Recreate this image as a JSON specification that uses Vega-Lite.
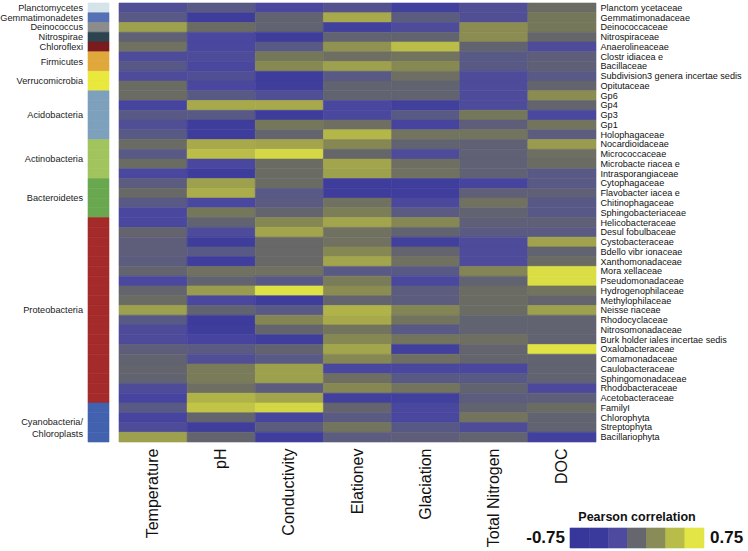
{
  "$schema": "https://vega.github.io/schema/vega-lite/v6.json",
  "padding": {"left": 0, "top": 2, "right": 0, "bottom": 0},
  "background": "white",
  "config": {
    "view": {"stroke": null},
    "font": "Liberation Sans",
    "concat": {"spacing": 8}
  },
  "datasets": {
    "families": [
      {"family": "Planctom ycetaceae", "phylum": "Planctomycetes", "Temperature": -0.35, "pH": -0.2, "Conductivity": -0.45, "Elationev": -0.3, "Glaciation": -0.55, "Total Nitrogen": -0.35, "DOC": 0.05},
      {"family": "Gemmatimonadaceae", "phylum": "Gemmatimonadetes", "Temperature": -0.2, "pH": -0.6, "Conductivity": -0.05, "Elationev": 0.45, "Glaciation": -0.15, "Total Nitrogen": -0.35, "DOC": 0.15},
      {"family": "Deinococcaceae", "phylum": "Deinococcus", "Temperature": 0.4, "pH": 0.05, "Conductivity": -0.05, "Elationev": -0.55, "Glaciation": -0.4, "Total Nitrogen": 0.3, "DOC": 0.15},
      {"family": "Nitrospiraceae", "phylum": "Nitrospirae", "Temperature": -0.08, "pH": -0.45, "Conductivity": -0.6, "Elationev": -0.05, "Glaciation": -0.05, "Total Nitrogen": 0.3, "DOC": 0.0},
      {"family": "Anaerolineaceae", "phylum": "Chloroflexi", "Temperature": 0.1, "pH": -0.45, "Conductivity": -0.2, "Elationev": 0.33, "Glaciation": 0.55, "Total Nitrogen": -0.05, "DOC": -0.4},
      {"family": "Clostr idiacea e", "phylum": "Firmicutes", "Temperature": -0.4, "pH": -0.38, "Conductivity": 0.15, "Elationev": 0.08, "Glaciation": 0.12, "Total Nitrogen": -0.2, "DOC": -0.12},
      {"family": "Bacillaceae", "phylum": "Firmicutes", "Temperature": -0.22, "pH": -0.45, "Conductivity": 0.28, "Elationev": 0.4, "Glaciation": 0.28, "Total Nitrogen": -0.2, "DOC": -0.1},
      {"family": "Subdivision3 genera incertae sedis", "phylum": "Verrucomicrobia", "Temperature": -0.4, "pH": -0.35, "Conductivity": -0.6, "Elationev": -0.2, "Glaciation": 0.08, "Total Nitrogen": -0.4, "DOC": -0.2},
      {"family": "Opitutaceae", "phylum": "Verrucomicrobia", "Temperature": 0.05, "pH": -0.45, "Conductivity": -0.58, "Elationev": -0.05, "Glaciation": -0.05, "Total Nitrogen": -0.4, "DOC": -0.03},
      {"family": "Gp6", "phylum": "Acidobacteria", "Temperature": 0.05, "pH": -0.2, "Conductivity": -0.35, "Elationev": -0.05, "Glaciation": -0.05, "Total Nitrogen": -0.4, "DOC": 0.3},
      {"family": "Gp4", "phylum": "Acidobacteria", "Temperature": -0.5, "pH": 0.45, "Conductivity": 0.45, "Elationev": -0.45, "Glaciation": -0.55, "Total Nitrogen": -0.4, "DOC": -0.03},
      {"family": "Gp3", "phylum": "Acidobacteria", "Temperature": -0.2, "pH": -0.2, "Conductivity": -0.6, "Elationev": -0.45, "Glaciation": -0.2, "Total Nitrogen": 0.15, "DOC": -0.45},
      {"family": "Gp1", "phylum": "Acidobacteria", "Temperature": -0.35, "pH": -0.6, "Conductivity": 0.15, "Elationev": 0.08, "Glaciation": -0.5, "Total Nitrogen": -0.12, "DOC": 0.12},
      {"family": "Holophagaceae", "phylum": "Acidobacteria", "Temperature": -0.2, "pH": -0.6, "Conductivity": -0.03, "Elationev": 0.52, "Glaciation": 0.12, "Total Nitrogen": 0.12, "DOC": -0.15},
      {"family": "Nocardioidaceae", "phylum": "Actinobacteria", "Temperature": 0.05, "pH": 0.45, "Conductivity": 0.43, "Elationev": 0.27, "Glaciation": -0.05, "Total Nitrogen": -0.08, "DOC": 0.38},
      {"family": "Micrococcaceae", "phylum": "Actinobacteria", "Temperature": -0.2, "pH": 0.55, "Conductivity": 0.68, "Elationev": 0.0, "Glaciation": -0.4, "Total Nitrogen": -0.08, "DOC": 0.08},
      {"family": "Microbacte riacea e", "phylum": "Actinobacteria", "Temperature": 0.05, "pH": -0.45, "Conductivity": 0.05, "Elationev": 0.43, "Glaciation": 0.08, "Total Nitrogen": -0.08, "DOC": 0.05},
      {"family": "Intrasporangiaceae", "phylum": "Actinobacteria", "Temperature": -0.45, "pH": -0.6, "Conductivity": 0.05, "Elationev": 0.4, "Glaciation": 0.1, "Total Nitrogen": -0.08, "DOC": -0.2},
      {"family": "Cytophagaceae", "phylum": "Bacteroidetes", "Temperature": -0.15, "pH": 0.4, "Conductivity": 0.05, "Elationev": -0.6, "Glaciation": -0.58, "Total Nitrogen": -0.5, "DOC": -0.2},
      {"family": "Flavobacter iacea e", "phylum": "Bacteroidetes", "Temperature": 0.03, "pH": 0.47, "Conductivity": -0.2, "Elationev": -0.6, "Glaciation": -0.58, "Total Nitrogen": -0.1, "DOC": -0.1},
      {"family": "Chitinophagaceae", "phylum": "Bacteroidetes", "Temperature": -0.2, "pH": -0.45, "Conductivity": -0.18, "Elationev": 0.1, "Glaciation": -0.42, "Total Nitrogen": 0.1, "DOC": -0.22},
      {"family": "Sphingobacteriaceae", "phylum": "Bacteroidetes", "Temperature": -0.45, "pH": 0.15, "Conductivity": -0.03, "Elationev": 0.2, "Glaciation": -0.18, "Total Nitrogen": -0.05, "DOC": -0.22},
      {"family": "Helicobacteraceae", "phylum": "Proteobacteria", "Temperature": -0.45, "pH": -0.05, "Conductivity": 0.27, "Elationev": 0.43, "Glaciation": 0.27, "Total Nitrogen": -0.1, "DOC": -0.1},
      {"family": "Desul fobulbaceae", "phylum": "Proteobacteria", "Temperature": -0.03, "pH": -0.4, "Conductivity": 0.43, "Elationev": 0.1, "Glaciation": -0.05, "Total Nitrogen": -0.18, "DOC": -0.18},
      {"family": "Cystobacteraceae", "phylum": "Proteobacteria", "Temperature": -0.12, "pH": -0.6, "Conductivity": 0.02, "Elationev": 0.1, "Glaciation": -0.55, "Total Nitrogen": -0.4, "DOC": 0.42},
      {"family": "Bdello vibr ionaceae", "phylum": "Proteobacteria", "Temperature": -0.12, "pH": -0.2, "Conductivity": 0.02, "Elationev": 0.27, "Glaciation": -0.03, "Total Nitrogen": -0.4, "DOC": -0.05},
      {"family": "Xanthomonadaceae", "phylum": "Proteobacteria", "Temperature": -0.15, "pH": -0.58, "Conductivity": 0.02, "Elationev": 0.43, "Glaciation": 0.1, "Total Nitrogen": -0.4, "DOC": 0.05},
      {"family": "Mora xellaceae", "phylum": "Proteobacteria", "Temperature": -0.03, "pH": 0.1, "Conductivity": 0.1, "Elationev": -0.2, "Glaciation": -0.2, "Total Nitrogen": 0.25, "DOC": 0.7},
      {"family": "Pseudomonadaceae", "phylum": "Proteobacteria", "Temperature": -0.45, "pH": -0.05, "Conductivity": -0.22, "Elationev": 0.18, "Glaciation": -0.45, "Total Nitrogen": -0.05, "DOC": 0.7},
      {"family": "Hydrogenophilaceae", "phylum": "Proteobacteria", "Temperature": -0.03, "pH": 0.38, "Conductivity": 0.72, "Elationev": 0.3, "Glaciation": -0.15, "Total Nitrogen": 0.05, "DOC": 0.12},
      {"family": "Methylophilaceae", "phylum": "Proteobacteria", "Temperature": 0.05, "pH": -0.45, "Conductivity": -0.6, "Elationev": -0.03, "Glaciation": -0.15, "Total Nitrogen": 0.05, "DOC": -0.03},
      {"family": "Neisse riaceae", "phylum": "Proteobacteria", "Temperature": 0.4, "pH": -0.05, "Conductivity": -0.2, "Elationev": 0.5, "Glaciation": 0.25, "Total Nitrogen": 0.05, "DOC": 0.4},
      {"family": "Rhodocyclaceae", "phylum": "Proteobacteria", "Temperature": -0.2, "pH": -0.62, "Conductivity": 0.25, "Elationev": 0.45, "Glaciation": 0.12, "Total Nitrogen": -0.05, "DOC": -0.05},
      {"family": "Nitrosomonadaceae", "phylum": "Proteobacteria", "Temperature": -0.4, "pH": -0.6, "Conductivity": -0.03, "Elationev": 0.12, "Glaciation": -0.2, "Total Nitrogen": -0.05, "DOC": -0.05},
      {"family": "Burk holder iales incertae sedis", "phylum": "Proteobacteria", "Temperature": -0.4, "pH": -0.5, "Conductivity": -0.58, "Elationev": 0.27, "Glaciation": 0.12, "Total Nitrogen": 0.08, "DOC": -0.05},
      {"family": "Oxalobacteraceae", "phylum": "Proteobacteria", "Temperature": -0.12, "pH": -0.18, "Conductivity": -0.05, "Elationev": 0.43, "Glaciation": -0.55, "Total Nitrogen": -0.03, "DOC": 0.73},
      {"family": "Comamonadaceae", "phylum": "Proteobacteria", "Temperature": -0.05, "pH": -0.35, "Conductivity": -0.2, "Elationev": 0.27, "Glaciation": 0.08, "Total Nitrogen": -0.03, "DOC": -0.05},
      {"family": "Caulobacteraceae", "phylum": "Proteobacteria", "Temperature": -0.03, "pH": 0.18, "Conductivity": 0.4, "Elationev": -0.45, "Glaciation": -0.45, "Total Nitrogen": -0.45, "DOC": -0.05},
      {"family": "Sphingomonadaceae", "phylum": "Proteobacteria", "Temperature": -0.05, "pH": 0.18, "Conductivity": 0.4, "Elationev": 0.08, "Glaciation": -0.2, "Total Nitrogen": -0.2, "DOC": -0.05},
      {"family": "Rhodobacteraceae", "phylum": "Proteobacteria", "Temperature": -0.38, "pH": 0.08, "Conductivity": -0.15, "Elationev": 0.27, "Glaciation": 0.12, "Total Nitrogen": -0.05, "DOC": -0.42},
      {"family": "Acetobacteraceae", "phylum": "Proteobacteria", "Temperature": -0.5, "pH": 0.5, "Conductivity": 0.43, "Elationev": -0.55, "Glaciation": -0.55, "Total Nitrogen": -0.15, "DOC": -0.12},
      {"family": "FamilyI", "phylum": "Cyanobacteria/\nChloroplasts", "Temperature": -0.2, "pH": 0.58, "Conductivity": 0.67, "Elationev": -0.03, "Glaciation": -0.45, "Total Nitrogen": -0.05, "DOC": 0.05},
      {"family": "Chlorophyta", "phylum": "Cyanobacteria/\nChloroplasts", "Temperature": -0.5, "pH": -0.03, "Conductivity": -0.48, "Elationev": -0.18, "Glaciation": -0.45, "Total Nitrogen": 0.12, "DOC": -0.05},
      {"family": "Streptophyta", "phylum": "Cyanobacteria/\nChloroplasts", "Temperature": -0.38, "pH": -0.58, "Conductivity": -0.15, "Elationev": 0.12, "Glaciation": -0.22, "Total Nitrogen": -0.38, "DOC": -0.05},
      {"family": "Bacillariophyta", "phylum": "Cyanobacteria/\nChloroplasts", "Temperature": 0.4, "pH": -0.03, "Conductivity": -0.58, "Elationev": -0.15, "Glaciation": -0.12, "Total Nitrogen": -0.05, "DOC": -0.55}
    ],
    "legendBlocks": [
      {"k": 1, "c": "#37379b"},
      {"k": 2, "c": "#3a3a9c"},
      {"k": 3, "c": "#4d4a9f"},
      {"k": 4, "c": "#66666e"},
      {"k": 5, "c": "#8a8c58"},
      {"k": 6, "c": "#b8bc48"},
      {"k": 7, "c": "#e2e545"}
    ]
  },
  "hconcat": [
    {
      "width": 21,
      "height": 439,
      "data": {"name": "families"},
      "layer": [
        {
          "mark": {"type": "rect", "strokeWidth": 0.6},
          "encoding": {
            "y": {"field": "family", "type": "nominal", "sort": null, "axis": null, "scale": {"paddingInner": 0, "paddingOuter": 0}},
            "color": {
              "field": "phylum", "type": "nominal", "legend": null,
              "scale": {
                "domain": ["Planctomycetes", "Gemmatimonadetes", "Deinococcus", "Nitrospirae", "Chloroflexi", "Firmicutes", "Verrucomicrobia", "Acidobacteria", "Actinobacteria", "Bacteroidetes", "Proteobacteria", "Cyanobacteria/\nChloroplasts"],
                "range": ["#d5e3ea", "#5570b5", "#8c8c8c", "#2e4350", "#7a1b1e", "#e0a83a", "#e9e83c", "#7da0bd", "#a2c45e", "#6aa84f", "#a52a2a", "#4262b0"]
              }
            },
            "stroke": {
              "field": "phylum", "type": "nominal", "legend": null,
              "scale": {
                "domain": ["Planctomycetes", "Gemmatimonadetes", "Deinococcus", "Nitrospirae", "Chloroflexi", "Firmicutes", "Verrucomicrobia", "Acidobacteria", "Actinobacteria", "Bacteroidetes", "Proteobacteria", "Cyanobacteria/\nChloroplasts"],
                "range": ["#d5e3ea", "#5570b5", "#8c8c8c", "#2e4350", "#7a1b1e", "#e0a83a", "#e9e83c", "#7da0bd", "#a2c45e", "#6aa84f", "#a52a2a", "#4262b0"]
              }
            }
          }
        },
        {
          "transform": [{"window": [{"op": "row_number", "as": "rn"}]}],
          "mark": {"type": "text", "align": "right", "baseline": "middle", "fontSize": 9.2, "dx": -5, "lineBreak": "\n", "color": "#1a1a1a"},
          "encoding": {
            "x": {"value": 0},
            "y": {"aggregate": "mean", "field": "rn", "type": "quantitative", "axis": null, "scale": {"domain": [0.5, 45.5], "reverse": true, "nice": false, "zero": false}},
            "text": {"field": "phylum", "type": "nominal"}
          }
        }
      ],
      "resolve": {"scale": {"y": "independent"}}
    },
    {
      "width": 477,
      "height": 439,
      "layer": [
        {
          "data": {"name": "families"},
          "transform": [{"fold": ["Temperature", "pH", "Conductivity", "Elationev", "Glaciation", "Total Nitrogen", "DOC"], "as": ["variable", "r"]}],
          "mark": {"type": "rect", "strokeWidth": 0.6},
          "encoding": {
            "x": {
              "field": "variable", "type": "nominal",
              "sort": ["Temperature", "pH", "Conductivity", "Elationev", "Glaciation", "Total Nitrogen", "DOC"],
              "scale": {"paddingInner": 0, "paddingOuter": 0},
              "axis": {"orient": "bottom", "title": null, "labelAngle": -90, "labelFontSize": 16, "labelPadding": 6, "ticks": false, "domain": false, "labelColor": "#111111", "labelFont": "Liberation Sans"}
            },
            "y": {
              "field": "family", "type": "nominal", "sort": null,
              "scale": {"paddingInner": 0, "paddingOuter": 0},
              "axis": {"orient": "right", "title": null, "labelFontSize": 9.1, "ticks": false, "domain": false, "labelPadding": 4, "labelColor": "#111111", "labelFont": "Liberation Sans"}
            },
            "color": {
              "field": "r", "type": "quantitative", "legend": null,
              "scale": {
                "domain": [-0.75, -0.45, -0.2, 0, 0.15, 0.3, 0.5, 0.75],
                "range": ["#333399", "#4a479f", "#595985", "#656669", "#75775b", "#8a8c52", "#b0b348", "#e4e743"],
                "interpolate": "rgb"
              }
            },
            "stroke": {
              "field": "r", "type": "quantitative", "legend": null,
              "scale": {
                "domain": [-0.75, -0.45, -0.2, 0, 0.15, 0.3, 0.5, 0.75],
                "range": ["#333399", "#4a479f", "#595985", "#656669", "#75775b", "#8a8c52", "#b0b348", "#e4e743"],
                "interpolate": "rgb"
              }
            }
          }
        },
        {
          "data": {"name": "legendBlocks"},
          "mark": {"type": "rect", "strokeWidth": 0.6},
          "encoding": {
            "x": {"field": "k", "type": "ordinal", "axis": null, "scale": {"range": [451, 585], "paddingInner": 0, "paddingOuter": 0}},
            "y": {"value": 525},
            "y2": {"value": 545},
            "color": {"field": "c", "type": "nominal", "scale": null, "legend": null},
            "stroke": {"field": "c", "type": "nominal", "scale": null, "legend": null}
          }
        },
        {
          "data": {"values": [{"t": "Pearson correlation"}]},
          "mark": {"type": "text", "fontWeight": "bold", "fontSize": 12.5, "align": "center", "baseline": "alphabetic", "color": "#111111"},
          "encoding": {"x": {"value": 518}, "y": {"value": 518}, "text": {"field": "t"}}
        },
        {
          "data": {"values": [{"t": "-0.75"}]},
          "mark": {"type": "text", "fontWeight": "bold", "fontSize": 17, "align": "right", "baseline": "middle", "color": "#111111"},
          "encoding": {"x": {"value": 446}, "y": {"value": 535}, "text": {"field": "t"}}
        },
        {
          "data": {"values": [{"t": "0.75"}]},
          "mark": {"type": "text", "fontWeight": "bold", "fontSize": 17, "align": "left", "baseline": "middle", "color": "#111111"},
          "encoding": {"x": {"value": 591}, "y": {"value": 535}, "text": {"field": "t"}}
        }
      ],
      "resolve": {"scale": {"x": "independent", "y": "independent", "color": "independent", "stroke": "independent"}}
    }
  ]
}
